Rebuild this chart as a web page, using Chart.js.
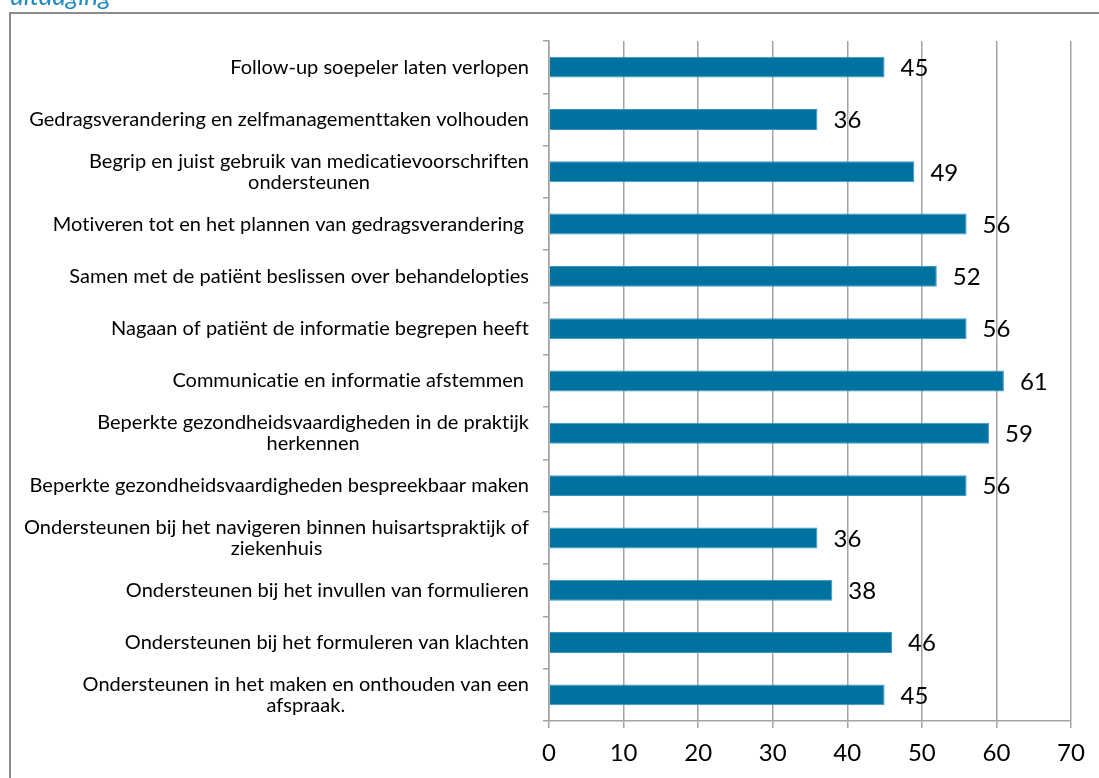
<!DOCTYPE html>
<html>
<head>
<meta charset="utf-8">
<script src="https://cdn.jsdelivr.net/npm/chart.js@4.4.1/dist/chart.umd.min.js"></script>
<style>
  html, body { margin: 0; padding: 0; background: #fff; overflow: hidden; }
  #wrap { position: relative; width: 1099px; height: 778px; }
  #caption { position: absolute; left: 10px; top: -18px; font: italic 26px Lato, sans-serif; line-height: 26px; color: #1F8AC2; white-space: nowrap; }
  canvas { position: absolute; left: 0; top: 0; }
</style>
</head>
<body>
<div id="wrap">
  <canvas id="c" width="1099" height="778"></canvas>
  <div id="caption">uitdaging</div>
</div>
<script>
const categories = [
  "Follow-up soepeler laten verlopen",
  "Gedragsverandering en zelfmanagementtaken volhouden",
  ["Begrip en juist gebruik van medicatievoorschriften", "ondersteunen"],
  "Motiveren tot en het plannen van gedragsverandering ",
  "Samen met de patiënt beslissen over behandelopties",
  "Nagaan of patiënt de informatie begrepen heeft",
  "Communicatie en informatie afstemmen ",
  ["Beperkte gezondheidsvaardigheden in de praktijk", "herkennen"],
  "Beperkte gezondheidsvaardigheden bespreekbaar maken",
  ["Ondersteunen bij het navigeren binnen huisartspraktijk of", "ziekenhuis"],
  "Ondersteunen bij het invullen van formulieren",
  "Ondersteunen bij het formuleren van klachten",
  ["Ondersteunen in het maken en onthouden van een", "afspraak."]
];
const values = [45, 36, 49, 56, 52, 56, 61, 59, 56, 36, 38, 46, 45];
const xTicks = [0, 10, 20, 30, 40, 50, 60, 70];

const GRID = '#A3A3A3';
const LABEL_FONT = '20px Lato, sans-serif';
const VALUE_FONT = '24px Lato, sans-serif';

const framePlugin = {
  id: 'frame',
  beforeDraw(chart) {
    const ctx = chart.ctx;
    ctx.save();
    ctx.strokeStyle = '#8C8C8C';
    ctx.lineWidth = 2;
    ctx.strokeRect(10, 13, 1200, 900);
    ctx.restore();
  }
};

const labelPlugin = {
  id: 'catLabels',
  afterDraw(chart) {
    const ctx = chart.ctx;
    const y = chart.scales.y;
    const meta = chart.getDatasetMeta(0);
    ctx.save();
    ctx.fillStyle = '#000';
    ctx.textBaseline = 'middle';
    if ('letterSpacing' in ctx) ctx.letterSpacing = '0.01px';
    ctx.font = LABEL_FONT;
    const right = y.right - 20;
    const lh = 21;
    categories.forEach((lab, i) => {
      const lines = Array.isArray(lab) ? lab : [lab];
      const cy = y.getPixelForValue(i);
      const w = Math.max(...lines.map(l => ctx.measureText(l).width));
      const cx = right - w / 2;
      ctx.textAlign = 'center';
      lines.forEach((l, k) => {
        ctx.fillText(l, cx, cy + (k - (lines.length - 1) / 2) * lh);
      });
    });
    ctx.font = VALUE_FONT;
    ctx.textAlign = 'left';
    meta.data.forEach((bar, i) => {
      ctx.fillText(String(values[i]), bar.x + 16, bar.y + 1);
    });
    ctx.restore();
  }
};

new Chart(document.getElementById('c'), {
  type: 'bar',
  data: {
    labels: categories,
    datasets: [{
      data: values,
      backgroundColor: '#0072A0',
      borderColor: '#3E97C0',
      borderWidth: 1,
      barPercentage: 0.4,
      categoryPercentage: 1.0
    }]
  },
  options: {
    indexAxis: 'y',
    responsive: false,
    maintainAspectRatio: false,
    animation: false,
    layout: { padding: { left: 0, right: 28, top: 41, bottom: 0 } },
    plugins: { legend: { display: false }, tooltip: { enabled: false } },
    scales: {
      x: {
        type: 'linear',
        min: 0, max: 70,
        afterBuildTicks(scale) { scale.ticks = xTicks.map(v => ({ value: v })); },
        afterFit(scale) { scale.height = 57; },
        grid: { color: GRID, lineWidth: 1.5, tickLength: 7, drawTicks: true },
        border: { display: true, color: GRID, width: 1.5 },
        ticks: { font: { family: 'Lato, sans-serif', size: 24 }, color: '#000', padding: 11 }
      },
      y: {
        afterFit(scale) { scale.width = 549; },
        grid: { display: true, offset: true, drawOnChartArea: false, drawTicks: true, tickLength: 6, color: GRID, lineWidth: 1.5 },
        border: { display: true, color: GRID, width: 1.5 },
        ticks: { display: false }
      }
    }
  },
  plugins: [framePlugin, labelPlugin]
});
</script>
</body>
</html>
